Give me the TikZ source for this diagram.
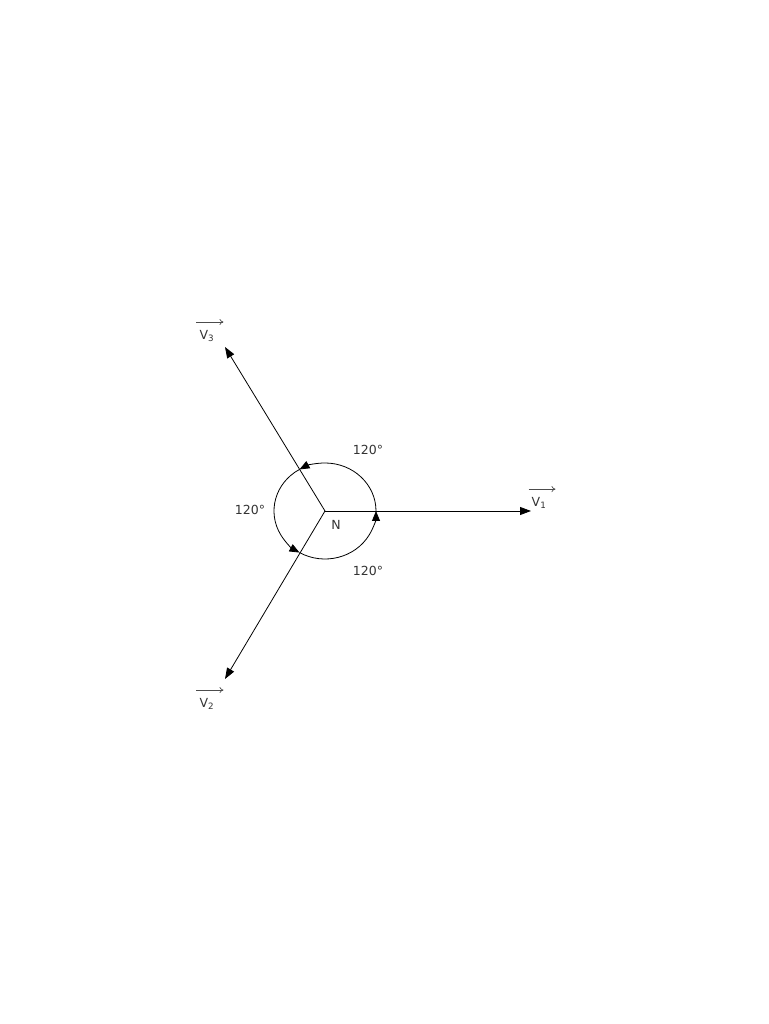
\documentclass[tikz,border=0pt]{standalone}
\usepackage{fontspec}
\setmainfont{DejaVu Sans}
\usetikzlibrary{arrows.meta}

\begin{document}
\begin{tikzpicture}[x=1pt,y=1pt,
        phasor/.style={-{Triangle[length=11pt,width=8pt]}, line width=0.8pt},
        turn/.style={-{Triangle[length=10pt,width=8pt]}, line width=0.8pt},
        over/.style={-{To[length=4pt,width=6pt]}, line width=0.7pt, black!70},
        lbl/.style={font=\fontsize{12.5}{14}\selectfont, text=black!80, inner sep=1pt}]
    \useasboundingbox (0,0) rectangle (768,1024);
    % star point and phasor ends
    \coordinate (N) at (325,513);
    \coordinate (V1) at (531,513);
    \coordinate (V2) at (225,345);
    \coordinate (V3) at (225,677);
    \draw[phasor] (N) -- (V1);
    \draw[phasor] (N) -- (V2);
    \draw[phasor] (N) -- (V3);
    % angle arcs
    \draw[turn] ([shift={(0:51 and 48)}]N) arc[start angle=0, end angle=120, x radius=51, y radius=48];
    \draw[turn] ([shift={(120:51 and 48)}]N) arc[start angle=120, end angle=240, x radius=51, y radius=48];
    \draw[turn] ([shift={(240:51 and 48)}]N) arc[start angle=240, end angle=360, x radius=51, y radius=48];
    % labels
    \node[lbl] (Nlbl) at (336,499) {N};
    \node[lbl] (a12) at (368,574) {120°};
    \node[lbl] (a23) at (250,514) {120°};
    \node[lbl] (a31) at (368,453) {120°};
    \node[lbl] (v1lbl) at (539,521) {V\textsubscript{1}};
    \node[lbl] (v2lbl) at (207,320) {V\textsubscript{2}};
    \node[lbl] (v3lbl) at (207,688) {V\textsubscript{3}};
    \draw[over] ([shift={(-2,7)}]v1lbl.north west) -- +(27,0);
    \draw[over] ([shift={(-2,7)}]v2lbl.north west) -- +(27,0);
    \draw[over] ([shift={(-2,7)}]v3lbl.north west) -- +(27,0);
\end{tikzpicture}
\end{document}
